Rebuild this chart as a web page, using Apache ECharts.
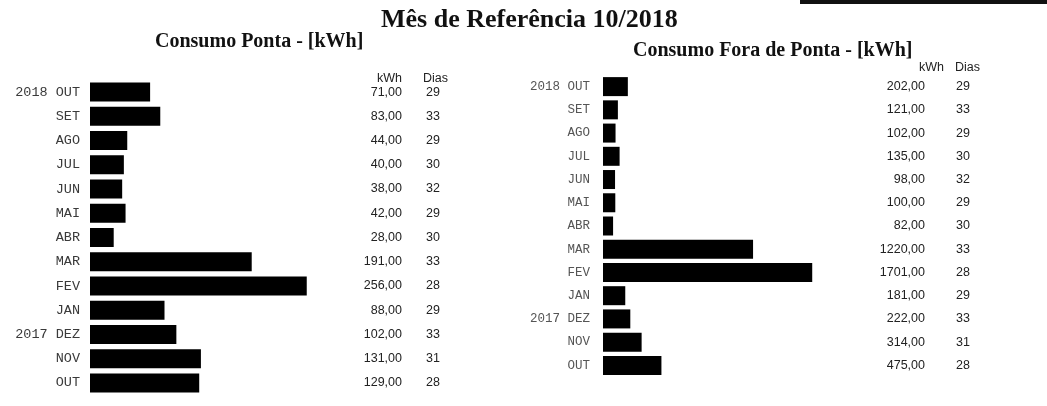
<!DOCTYPE html>
<html>
<head>
<meta charset="utf-8">
<script src="https://cdn.jsdelivr.net/npm/echarts@6/dist/echarts.min.js"></script>
<style>
html, body {margin:0; padding:0; background:#fff;}
#chart {width:1047px; height:406px;}
</style>
</head>
<body>
<div id="chart"></div>
<script type="text/javascript">
// meses (do mais recente para o mais antigo)
var meses = ['2018 OUT', 'SET', 'AGO', 'JUL', 'JUN', 'MAI', 'ABR', 'MAR', 'FEV', 'JAN', '2017 DEZ', 'NOV', 'OUT'];
var pontaKwh = [71, 83, 44, 40, 38, 42, 28, 191, 256, 88, 102, 131, 129];
var pontaDias = [29, 33, 29, 30, 32, 29, 30, 33, 28, 29, 33, 31, 28];
var foraKwh = [202, 121, 102, 135, 98, 100, 82, 1220, 1701, 181, 222, 314, 475];
var foraDias = [29, 33, 29, 30, 32, 29, 30, 33, 28, 29, 33, 31, 28];

function fmt(v) { return v.toFixed(2).replace('.', ','); }

var numLabel = {fontFamily: 'Liberation Sans', fontSize: 12.5, color: '#222'};

function catAxis(gi, data, pos, offset, lbl, align, margin) {
	return {
		type: 'category', gridIndex: gi, data: data, inverse: true, position: pos, offset: offset,
		axisLine: {show: false}, axisTick: {show: false}, splitLine: {show: false},
		axisLabel: Object.assign({margin: margin || 0, align: align}, lbl)
	};
}

var hdr = {fontFamily: 'Liberation Sans', fontSize: 12.5, fontWeight: 'normal', color: '#222'};
var sub = {fontFamily: 'Liberation Serif', fontWeight: 'bold', fontSize: 20, color: '#111'};

var myChart = echarts.init(document.getElementById('chart'));
var option = {
	animation: false,
	title: [
		{text: 'Mês de Referência 10/2018', left: 376, top: 2,
			textStyle: {fontFamily: 'Liberation Serif', fontWeight: 'bold', fontSize: 26, color: '#111'}},
		{text: 'Consumo Ponta - [kWh]', left: 150, top: 27, textStyle: sub},
		{text: 'Consumo Fora de Ponta - [kWh]', left: 628, top: 36, textStyle: sub},
		{text: 'kWh', left: 372, top: 67, textStyle: hdr},
		{text: 'Dias', left: 418, top: 67, textStyle: hdr},
		{text: 'kWh', left: 914, top: 56, textStyle: hdr},
		{text: 'Dias', left: 950, top: 56, textStyle: hdr}
	],
	graphic: [
		{type: 'rect', shape: {x: 800, y: 0, width: 247, height: 4}, style: {fill: '#111'}}
	],
	grid: [
		{left: 90, top: 80, width: 254, height: 315},
		{left: 603, top: 75, width: 246, height: 302}
	],
	xAxis: [
		{type: 'value', gridIndex: 0, min: 0, max: 300, show: false},
		{type: 'value', gridIndex: 1, min: 0, max: 2000, show: false}
	],
	yAxis: [
		catAxis(0, meses, 'left', 0, {fontFamily: 'Liberation Mono', fontSize: 13.5, color: '#3a3a3a'}, 'right', 10),
		catAxis(0, pontaKwh.map(fmt), 'right', 58, numLabel, 'right'),
		catAxis(0, pontaDias.map(String), 'right', 96, numLabel, 'right'),
		catAxis(1, meses, 'left', 0, {fontFamily: 'Liberation Mono', fontSize: 12.5, color: '#555'}, 'right', 13),
		catAxis(1, foraKwh.map(fmt), 'right', 76, numLabel, 'right'),
		catAxis(1, foraDias.map(String), 'right', 121, numLabel, 'right')
	],
	series: [
		{name: 'Ponta', type: 'bar', xAxisIndex: 0, yAxisIndex: 0, data: pontaKwh, barWidth: 19,
			itemStyle: {color: '#000'}},
		{name: 'Fora de Ponta', type: 'bar', xAxisIndex: 1, yAxisIndex: 3, data: foraKwh, barWidth: 19,
			itemStyle: {color: '#000'}}
	]
};
myChart.setOption(option, true);
</script>
</body>
</html>
